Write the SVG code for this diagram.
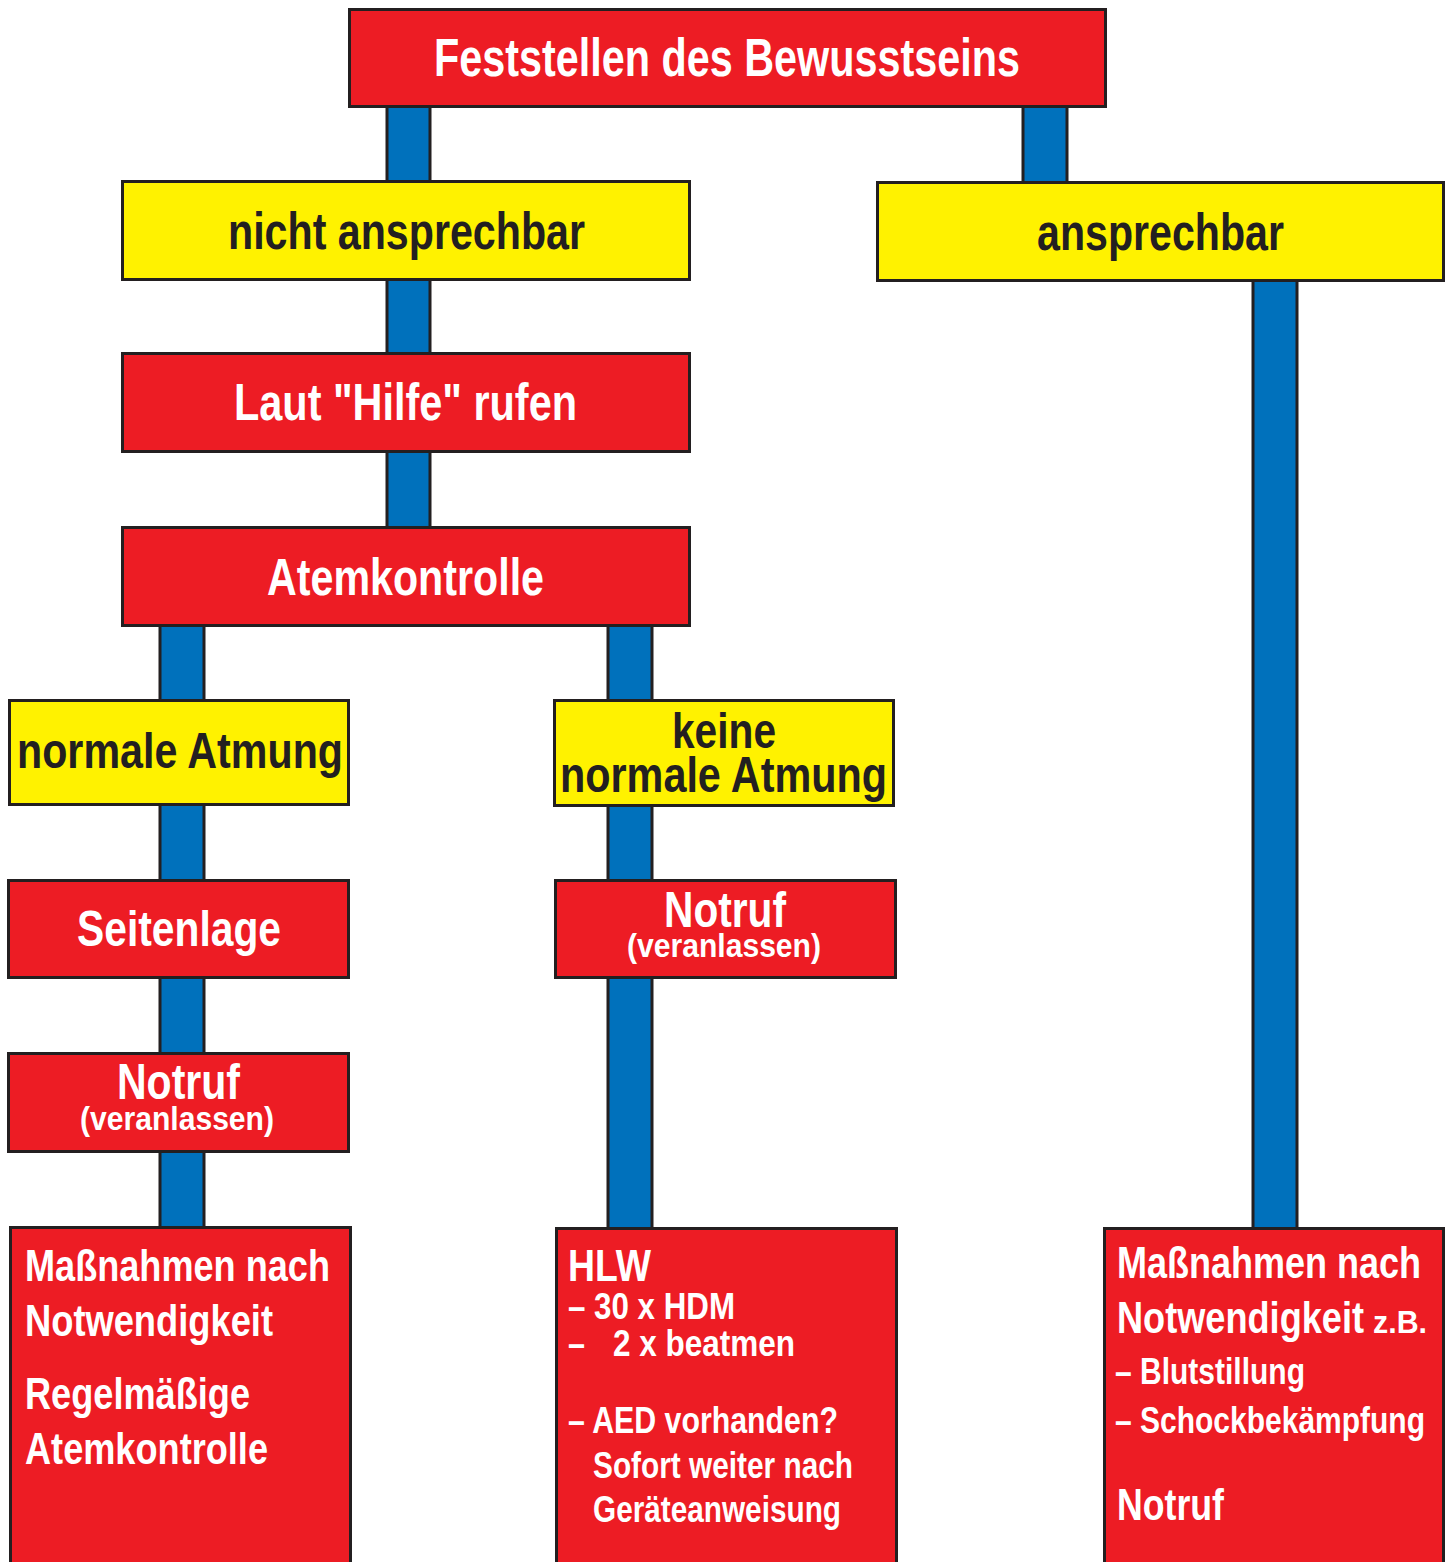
<svg xmlns="http://www.w3.org/2000/svg" width="1445" height="1562" viewBox="0 0 1445 1562">
<style>
.bar{fill:#0071bc;stroke:#231f20;stroke-width:3}
.red{fill:#ed1c24;stroke:#231f20;stroke-width:3}
.yel{fill:#fff200;stroke:#231f20;stroke-width:3}
text{font-family:"Liberation Sans",Arial,sans-serif;font-weight:bold}
.w{fill:#ffffff}
.k{fill:#231f20}
.c{text-anchor:middle}
</style>
<rect width="1445" height="1562" fill="#ffffff"/>
<g id="connectors">
<rect class="bar" x="387" y="100" width="43" height="88"/>
<rect class="bar" x="1023" y="100" width="44" height="88"/>
<rect class="bar" x="387" y="274" width="43" height="86"/>
<rect class="bar" x="387" y="446" width="43" height="88"/>
<rect class="bar" x="160" y="620" width="44" height="87"/>
<rect class="bar" x="608" y="620" width="44" height="87"/>
<rect class="bar" x="160" y="799" width="44" height="88"/>
<rect class="bar" x="608" y="800" width="44" height="87"/>
<rect class="bar" x="160" y="972" width="44" height="88"/>
<rect class="bar" x="608" y="972" width="44" height="263"/>
<rect class="bar" x="160" y="1146" width="44" height="88"/>
<rect class="bar" x="1253" y="275" width="44" height="960"/>
</g>
<g id="n-bewusstsein">
<rect class="red" x="349.5" y="9.5" width="756" height="97"/>
<text class="w" x="434" y="76" font-size="54" textLength="586" lengthAdjust="spacingAndGlyphs">Feststellen des Bewusstseins</text>
</g>
<g id="n-nicht">
<rect class="yel" x="122.5" y="181.5" width="567" height="98"/>
<text class="k" x="228" y="249" font-size="52" textLength="357" lengthAdjust="spacingAndGlyphs">nicht ansprechbar</text>
</g>
<g id="n-ansprechbar">
<rect class="yel" x="877.5" y="182.5" width="566" height="98"/>
<text class="k" x="1037" y="250" font-size="52" textLength="247" lengthAdjust="spacingAndGlyphs">ansprechbar</text>
</g>
<g id="n-laut">
<rect class="red" x="122.5" y="353.5" width="567" height="98"/>
<text class="w" x="234" y="420" font-size="52" textLength="343" lengthAdjust="spacingAndGlyphs">Laut "Hilfe" rufen</text>
</g>
<g id="n-atemkontrolle">
<rect class="red" x="122.5" y="527.5" width="567" height="98"/>
<text class="w" x="267" y="595" font-size="52" textLength="277" lengthAdjust="spacingAndGlyphs">Atemkontrolle</text>
</g>
<g id="n-normal">
<rect class="yel" x="9.5" y="700.5" width="339" height="104"/>
<text class="k" x="17" y="768" font-size="50" textLength="326" lengthAdjust="spacingAndGlyphs">normale Atmung</text>
</g>
<g id="n-keine">
<rect class="yel" x="554.5" y="700.5" width="339" height="105"/>
<text class="k" x="672" y="748" font-size="50" textLength="104" lengthAdjust="spacingAndGlyphs">keine</text>
<text class="k" x="560" y="792" font-size="50" textLength="327" lengthAdjust="spacingAndGlyphs">normale Atmung</text>
</g>
<g id="n-seitenlage">
<rect class="red" x="8.5" y="880.5" width="340" height="97"/>
<text class="w" x="77" y="946" font-size="50" textLength="204" lengthAdjust="spacingAndGlyphs">Seitenlage</text>
</g>
<g id="n-notruf-mid">
<rect class="red" x="555.5" y="880.5" width="340" height="97"/>
<text class="w" x="664" y="927" font-size="50" textLength="122" lengthAdjust="spacingAndGlyphs">Notruf</text>
<text class="w" x="627" y="957" font-size="34" textLength="194" lengthAdjust="spacingAndGlyphs">(veranlassen)</text>
</g>
<g id="n-notruf-left">
<rect class="red" x="8.5" y="1053.5" width="340" height="98"/>
<text class="w" x="117" y="1099" font-size="50" textLength="123" lengthAdjust="spacingAndGlyphs">Notruf</text>
<text class="w" x="80" y="1130" font-size="34" textLength="194" lengthAdjust="spacingAndGlyphs">(veranlassen)</text>
</g>
<g id="n-massnahmen-left">
<rect class="red" x="10.5" y="1227.5" width="340" height="340"/>
<text class="w" x="25" y="1281" font-size="44" textLength="305" lengthAdjust="spacingAndGlyphs">Maßnahmen nach</text>
<text class="w" x="25" y="1336" font-size="44" textLength="248" lengthAdjust="spacingAndGlyphs">Notwendigkeit</text>
<text class="w" x="25" y="1409" font-size="44" textLength="225" lengthAdjust="spacingAndGlyphs">Regelmäßige</text>
<text class="w" x="25" y="1464" font-size="44" textLength="243" lengthAdjust="spacingAndGlyphs">Atemkontrolle</text>
</g>
<g id="n-hlw">
<rect class="red" x="556.5" y="1228.5" width="340" height="340"/>
<text class="w" x="568" y="1281" font-size="44" textLength="83" lengthAdjust="spacingAndGlyphs">HLW</text>
<text class="w" x="568" y="1319" font-size="36" textLength="167" lengthAdjust="spacingAndGlyphs">– 30 x HDM</text>
<text class="w" x="568" y="1356" font-size="36" textLength="17" lengthAdjust="spacingAndGlyphs">–</text>
<text class="w" x="613" y="1356" font-size="36" textLength="182" lengthAdjust="spacingAndGlyphs">2 x beatmen</text>
<text class="w" x="568" y="1433" font-size="36" textLength="270" lengthAdjust="spacingAndGlyphs">– AED vorhanden?</text>
<text class="w" x="593" y="1478" font-size="36" textLength="260" lengthAdjust="spacingAndGlyphs">Sofort weiter nach</text>
<text class="w" x="593" y="1522" font-size="36" textLength="248" lengthAdjust="spacingAndGlyphs">Geräteanweisung</text>
</g>
<g id="n-massnahmen-right">
<rect class="red" x="1104.5" y="1228.5" width="339" height="340"/>
<text class="w" x="1117" y="1278" font-size="44" textLength="304" lengthAdjust="spacingAndGlyphs">Maßnahmen nach</text>
<text class="w" x="1117" y="1333" font-size="44" textLength="247" lengthAdjust="spacingAndGlyphs">Notwendigkeit</text>
<text class="w" x="1373" y="1333" font-size="32" textLength="54" lengthAdjust="spacingAndGlyphs">z.B.</text>
<text class="w" x="1115" y="1384" font-size="36" textLength="190" lengthAdjust="spacingAndGlyphs">– Blutstillung</text>
<text class="w" x="1115" y="1433" font-size="36" textLength="310" lengthAdjust="spacingAndGlyphs">– Schockbekämpfung</text>
<text class="w" x="1117" y="1520" font-size="44" textLength="107" lengthAdjust="spacingAndGlyphs">Notruf</text>
</g>
</svg>
